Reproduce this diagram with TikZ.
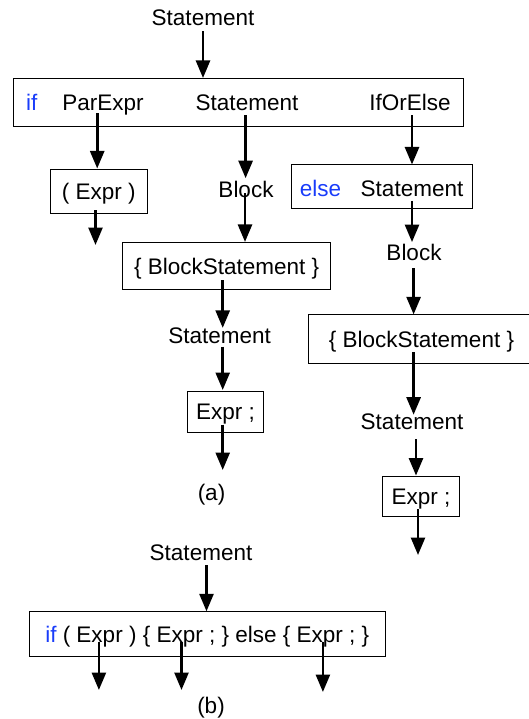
\documentclass[tikz,border=0pt]{standalone}
\usepackage{fontspec}
\setmainfont{Liberation Sans}
\usetikzlibrary{arrows.meta,calc}
\definecolor{kw}{RGB}{25,60,250}
\begin{document}
\begin{tikzpicture}[x=1pt,y=-1pt,
  txt/.style={inner sep=0pt, font=\fontsize{22.5}{27}\selectfont, text height=16.2pt, text depth=0pt},
  box/.style={txt, draw, line width=1pt},
  kwd/.style={txt, text=kw},
  arr/.style={line width=2.6pt, -{Triangle[length=17.5pt,width=14pt]}}]
\useasboundingbox (0,0) rectangle (529,719);

% ---------- (a) ----------
\node[txt] (top) at (203,17.2) {Statement};
\node[box, minimum width=450pt, minimum height=48pt] (mainbox) at (238,102.5) {};
\node[kwd, anchor=west] (if) at (26,102.6) {if};
\node[txt] (parexpr) at (103,102.6) {ParExpr};
\node[txt] (stmtA) at (247,102.6) {Statement};
\node[txt] (iforelse) at (410,102.6) {IfOrElse};

\node[box, minimum width=97.4pt, minimum height=43.6pt] (exprbox) at (98.7,191.8) {( Expr )};
\node[txt] (blockL) at (246,189) {Block};
\node[box, minimum width=181.5pt, minimum height=44pt] (elsebox) at (382.2,187) {};
\node[kwd, anchor=west] (elsekw) at (299.6,188.6) {else};
\node[txt] (stmtE) at (412,188.6) {Statement};

\node[box, minimum width=207.8pt, minimum height=46.5pt] (bsL) at (226.7,266.2) {\{ BlockStatement \}};
\node[txt] (stmtL) at (219.6,335.7) {Statement};
\node[box, minimum width=76.8pt, minimum height=41pt] (exprL) at (225.4,411.5) {Expr ;};

\node[txt] (blockR) at (414,252.4) {Block};
\node[box, minimum width=226pt, minimum height=49pt] (bsR) at (421.5,339.4) {\{ BlockStatement \}};
\node[txt] (stmtR) at (412,421) {Statement};
\node[box, minimum width=77pt, minimum height=40.3pt] (exprR) at (421,496.2) {Expr ;};

\node[txt] (labA) at (211.5,492.4) {(a)};

\coordinate (freeA1) at (95.5,245);
\coordinate (freeA2) at (222.7,470);
\coordinate (freeA3) at (418,555);

\draw[arr] ($(top.south)+(0,6)$) -- (top.south |- mainbox.north);
\draw[arr] ($(parexpr.south -| exprbox.north)+(-1.5,2.3)$) -- ($(exprbox.north)+(-1.5,-1)$);
\draw[arr] ($(stmtA.south)+(-1.4,4.3)$) -- ($(stmtA.south |- blockL.north)+(-1.4,-2.5)$);
\draw[arr] ($(stmtE |- iforelse.south)+(0,4.3)$) -- (stmtE |- elsebox.north);
\draw[arr] ($(exprbox.south -| freeA1)+(0,-3.6)$) -- (freeA1);
\draw[arr] ($(blockL.south)+(-1,-4)$) -- ($(blockL.south |- bsL.north)+(-1,-0.5)$);
\draw[arr] ($(stmtE.south)+(0,4)$) -- ($(stmtE.south |- blockR.north)+(0,-2)$);
\draw[arr] ($(blockR.south)+(-0.4,7.5)$) -- ($(blockR.south |- bsR.north)+(-0.4,0)$);
\draw[arr] ($(bsL.south -| stmtL.north)+(3.1,-9.5)$) -- ($(stmtL.north)+(3.1,0.5)$);
\draw[arr] ($(stmtL.south)+(3.1,2.7)$) -- ($(stmtL.south |- exprL.north)+(3.1,-0.5)$);
\draw[arr] ($(exprL.south -| freeA2)+(0,-8)$) -- (freeA2);
\draw[arr] ($(bsR.south -| stmtR.north)+(1.6,-12)$) -- ($(stmtR.north)+(1.6,2)$);
\draw[arr] ($(stmtR.south)+(4,10)$) -- ($(stmtR.south |- exprR.north)+(4,0)$);
\draw[arr] ($(exprR.south -| freeA3)+(0,-8)$) -- (freeA3);

% ---------- (b) ----------
\node[txt] (stmtB) at (201,552) {Statement};
\node[box, minimum width=355.6pt, minimum height=44.6pt] (boxb) at (207.2,634.1)
  {\textcolor{kw}{if} ( Expr ) \{ Expr ; \} else \{ Expr ; \}};
\node[txt] (labB) at (211,705.5) {(b)};

\coordinate (freeB1) at (98.9,690);
\coordinate (freeB2) at (181.5,690);
\coordinate (freeB3) at (322.9,692);

\draw[arr] ($(stmtB.south)+(5.5,5)$) -- ($(stmtB.south |- boxb.north)+(5.5,0)$);
\draw[arr] ($(boxb.south -| freeB1)+(0,-15)$) -- (freeB1);
\draw[arr] ($(boxb.south -| freeB2)+(0,-15)$) -- (freeB2);
\draw[arr] ($(boxb.south -| freeB3)+(0,-15)$) -- (freeB3);
\end{tikzpicture}
\end{document}
